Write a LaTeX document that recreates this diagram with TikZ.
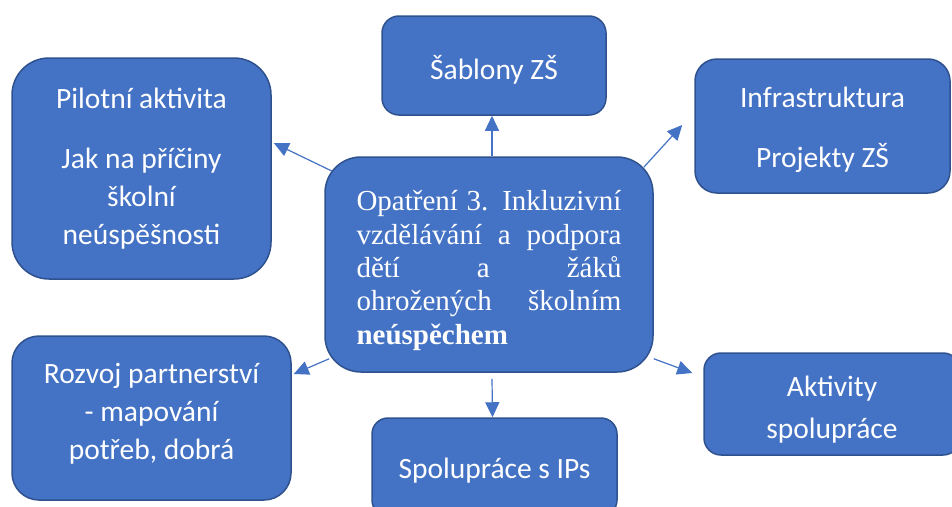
\documentclass[tikz,border=0pt]{standalone}
\usepackage{fontspec}
\setmainfont{Liberation Serif}
\newfontfamily\calfont{Carlito}
\usetikzlibrary{arrows.meta,calc}
\definecolor{boxfill}{HTML}{4472C4}
\definecolor{boxline}{HTML}{2F528F}
\begin{document}
\begin{tikzpicture}[x=1pt,y=-1pt,
  box/.style={draw=boxline,fill=boxfill,line width=1.5pt,inner sep=0pt},
  txt/.style={text=white,align=center,inner sep=0pt,font=\calfont\fontsize{29.5}{38}\selectfont},
  arr/.style={draw=boxfill,line width=1.2pt,-{Triangle[length=15pt,width=14pt]}}]
\useasboundingbox (0,0) rectangle (952,506);
\fill[white] (0,0) rectangle (952,506);
% boxes
\node[box,rounded corners=36pt,minimum width=328pt,minimum height=215pt] (c) at (489,264.5) {};
\node[box,rounded corners=37pt,minimum width=259pt,minimum height=221pt] (p) at (141.5,168.5) {};
\node[box,rounded corners=22pt,minimum width=255pt,minimum height=134pt] (inf) at (822.5,126) {};
\node[box,rounded corners=17pt,minimum width=224pt,minimum height=99pt] (sab) at (494,65.5) {};
\node[box,rounded corners=27pt,minimum width=279pt,minimum height=164pt] (roz) at (151.5,418) {};
\node[box,rounded corners=16pt,minimum width=245pt,minimum height=98pt] (spo) at (494.5,467) {};
\node[box,rounded corners=17pt,minimum width=256pt,minimum height=102pt] (akt) at (832,404) {};
% texts
\node[txt,font=\fontsize{29}{33.3}\selectfont] (cT) at ($(c.center)+(0,6)$)
  {\makebox[265pt][s]{Opatření 3. Inkluzivní}\\
   \makebox[265pt][s]{vzdělávání a podpora}\\
   \makebox[265pt][s]{dětí a žáků}\\
   \makebox[265pt][s]{ohrožených školním}\\
   \makebox[265pt][l]{\textbf{neúspěchem}}};
\node[txt] (pT) at ($(p.center)+(0,0)$)
  {Pilotní aktivita\\[22pt]Jak na příčiny\\školní\\neúspěšnosti};
\node[txt] (infT) at ($(inf.center)+(0,4)$) {Infrastruktura\\[22pt]Projekty ZŠ};
\node[txt] (sabT) at ($(sab.center)+(0,4)$) {Šablony ZŠ};
\node[txt] (rozT) at ($(roz.center)+(0,-4)$) {Rozvoj partnerství\\- mapování\\potřeb, dobrá};
\node[txt] (spoT) at ($(spo.center)+(0,4)$) {Spolupráce s IPs};
\node[txt] (aktT) at ($(akt.center)+(0,6)$) {Aktivity\\[4pt]spolupráce};
% connectors
\draw[arr] ($(c.north)+(3,0)$) -- ($(sab.south)+(-2,0)$);
\draw[arr] ($(c.south)+(3,6)$) -- ($(spo.north)+(-2,0)$);
\draw[arr] ($(c.north west)+(8,15)$) -- ($(p.east)+(2,-25.5)$);
\draw[arr] ($(c.north east)+(-10,11)$) -- ($(inf.west)+(-12,-1)$);
\draw[arr] ($(c.south west)+(5,-14)$) -- ($(roz.east)+(2,-44)$);
\draw[arr] ($(c.south east)+(0,-14)$) -- ($(akt.west)+(-11,-31)$);
\end{tikzpicture}
\end{document}
